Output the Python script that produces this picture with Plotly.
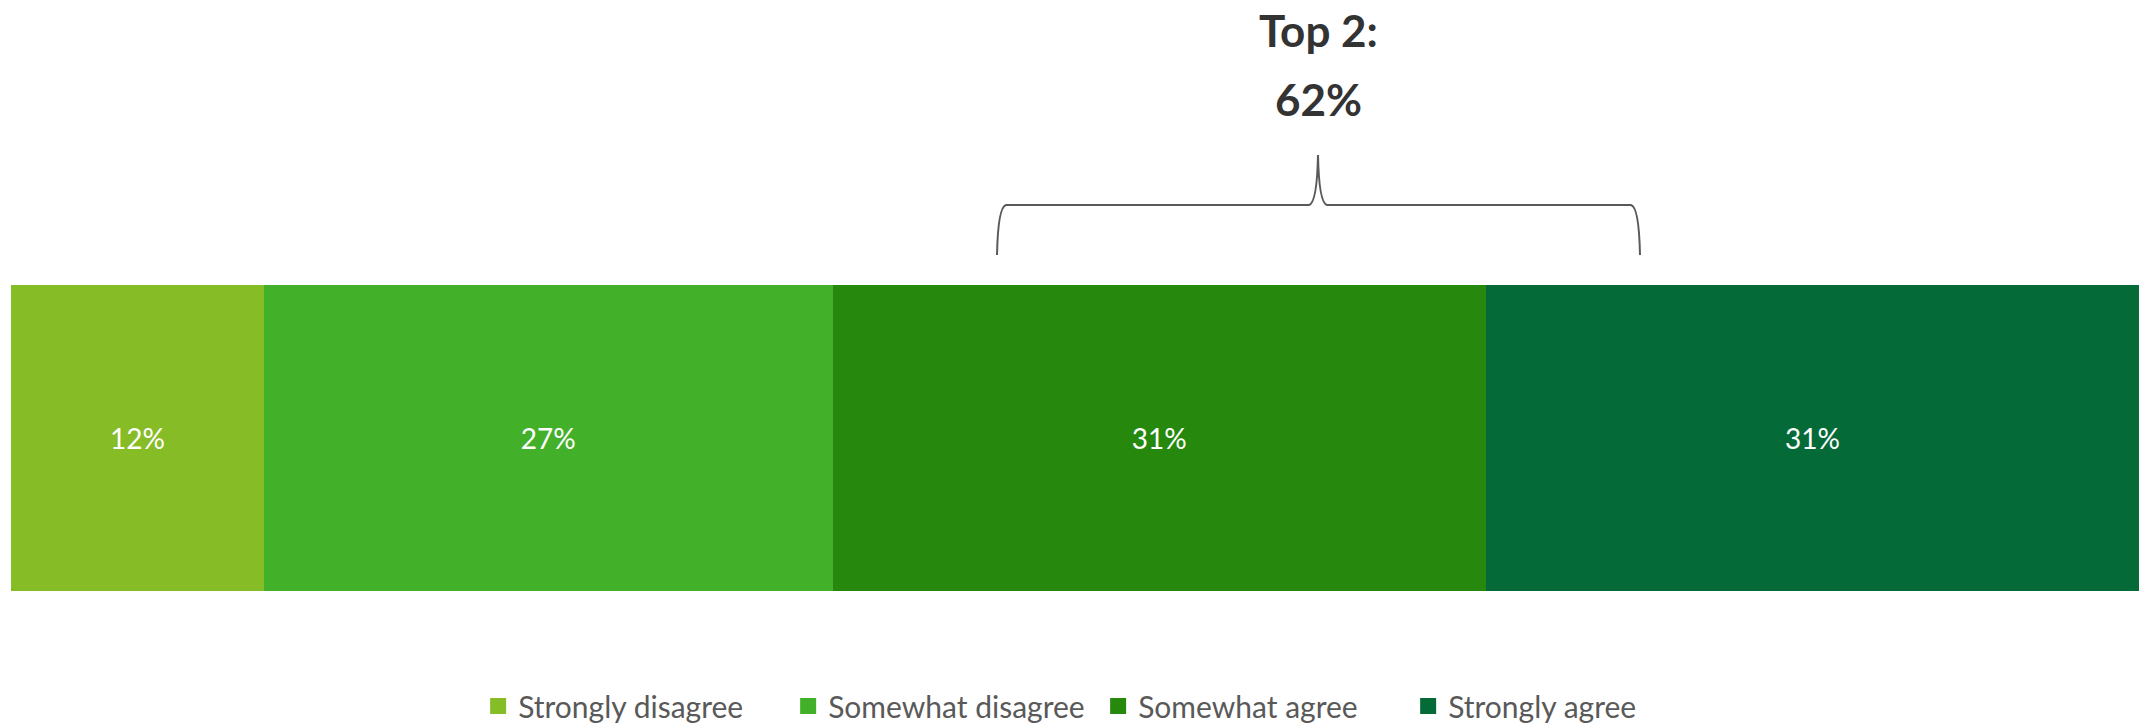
import plotly.graph_objects as go

# Survey responses (share of respondents, %)
categories = ["Strongly disagree", "Somewhat disagree", "Somewhat agree", "Strongly agree"]
values = [12, 27, 31, 31]
colors = ["#86BC25", "#43B02A", "#26890D", "#046A38"]
top2_label = "Top 2:"
top2_value = "62%"

W, H = 2149, 728

fig = go.Figure()
for name, val, col in zip(categories, values, colors):
    fig.add_trace(go.Bar(
        x=[val], y=[""], orientation="h", name=name,
        marker=dict(color=col, line=dict(width=0)),
        text=[f"{val}%"], textposition="inside", insidetextanchor="middle",
        textfont=dict(family="Lato", size=28, color="white"),
        width=1, showlegend=False, hoverinfo="skip",
    ))
    # legend entry with a larger square swatch
    fig.add_trace(go.Scatter(
        x=[None], y=[None], mode="markers", name=name,
        marker=dict(symbol="square", size=19, color=col),
        showlegend=True,
    ))


def px(x, y):
    """Pixel position -> paper coordinates."""
    return x / W, 1 - y / H


# Curly bracket above the two "agree" segments
L, R, C = 997, 1640, 1318
yb, yh, yt = 255, 205, 155
pts = {
    "l0": px(L, yb), "l1": px(L + 1, yh + 2), "l2": px(L + 9, yh),
    "c0": px(C - 9, yh), "c1": px(C - 1, yh - 2), "c2": px(C, yt),
    "c3": px(C + 1, yh - 2), "c4": px(C + 9, yh),
    "r0": px(R - 9, yh), "r1": px(R - 1, yh + 2), "r2": px(R, yb),
}


def p(k):
    return f"{pts[k][0]:.5f},{pts[k][1]:.5f}"


path = (f"M {p('l0')} Q {p('l1')} {p('l2')} L {p('c0')} Q {p('c1')} {p('c2')} "
        f"Q {p('c3')} {p('c4')} L {p('r0')} Q {p('r1')} {p('r2')}")
fig.add_shape(type="path", path=path, xref="paper", yref="paper",
              line=dict(color="#595959", width=2))

cx, ty = px(C, 30)
_, vy = px(C, 99)
for yy, txt in ((ty, top2_label), (vy, top2_value)):
    fig.add_annotation(x=cx, y=yy, xref="paper", yref="paper", text=f"<b>{txt}</b>",
                       xanchor="center", yanchor="middle", showarrow=False,
                       font=dict(family="Lato", size=44, color="#333333"))

fig.update_layout(
    width=W, height=H,
    barmode="stack",
    margin=dict(l=0, r=0, t=0, b=0, autoexpand=False),
    paper_bgcolor="white", plot_bgcolor="white",
    xaxis=dict(domain=[11 / W, 2139 / W], range=[0, sum(values)],
               visible=False, fixedrange=True),
    yaxis=dict(domain=[1 - 591 / H, 1 - 285 / H], range=[-0.5, 0.5],
               visible=False, fixedrange=True),
    showlegend=True,
    legend=dict(orientation="h", x=0.511, xanchor="center", y=1 - 706 / H, yanchor="middle",
                font=dict(family="Lato", size=30, color="#595959"),
                traceorder="normal", itemwidth=30, entrywidth=265,
                entrywidthmode="pixels", bgcolor="rgba(0,0,0,0)"),
    uniformtext=dict(mode="show", minsize=10),
)

fig.write_html("out.html")
